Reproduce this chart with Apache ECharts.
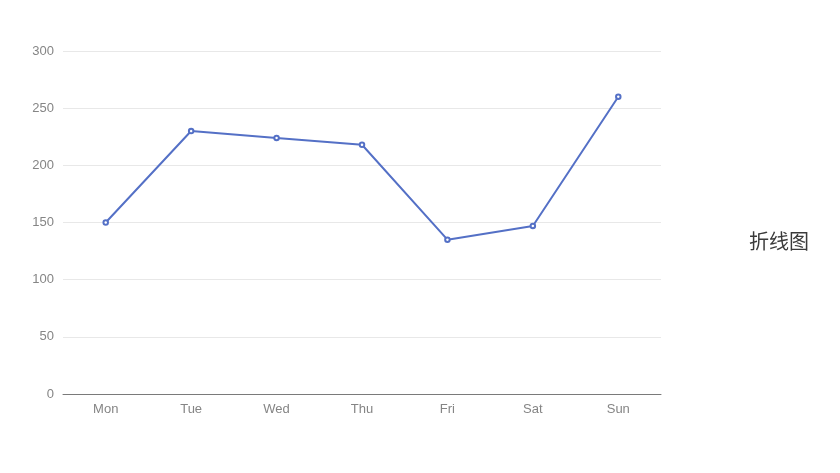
<!DOCTYPE html>
<html>
<head>
<meta charset="utf-8">
<script src="https://cdn.jsdelivr.net/npm/echarts@6/dist/echarts.min.js"></script>
<style>
html,body{margin:0;padding:0;background:#fff;}
#main{width:840px;height:473px;}
</style>
</head>
<body>
<div id="main"></div>
<script>
var categories = ['Mon', 'Tue', 'Wed', 'Thu', 'Fri', 'Sat', 'Sun'];
var values = [150, 230, 224, 218, 135, 147, 260];
var yTicks = { min: 0, max: 300, interval: 50 };
var sideLabel = '折线图';

var chart = echarts.init(document.getElementById('main'));
chart.setOption({
  animation: false,
  grid: { left: 63, right: 179, top: 51, bottom: 79 },
  xAxis: {
    type: 'category',
    data: categories,
    axisLine: { lineStyle: { color: '#7a7a7a' } },
    axisTick: { lineStyle: { color: '#7a7a7a' } },
    axisLabel: { color: '#858585', fontSize: 13, margin: 9 }
  },
  yAxis: {
    type: 'value',
    min: yTicks.min, max: yTicks.max, interval: yTicks.interval,
    axisLabel: { color: '#858585', fontSize: 13, margin: 9 },
    splitLine: { lineStyle: { color: '#e8e8e8' } }
  },
  series: [{
    type: 'line',
    data: values,
    symbol: 'emptyCircle',
    symbolSize: 4.5,
    lineStyle: { color: '#5470c6', width: 2 },
    itemStyle: { color: '#5470c6', borderWidth: 1.5 }
  }],
  graphic: [{
    type: 'text',
    left: 749,
    top: 231,
    style: { text: sideLabel, fill: '#3a3a3a', fontSize: 20, fontFamily: 'Noto Sans CJK SC' }
  }]
});
</script>
</body>
</html>
